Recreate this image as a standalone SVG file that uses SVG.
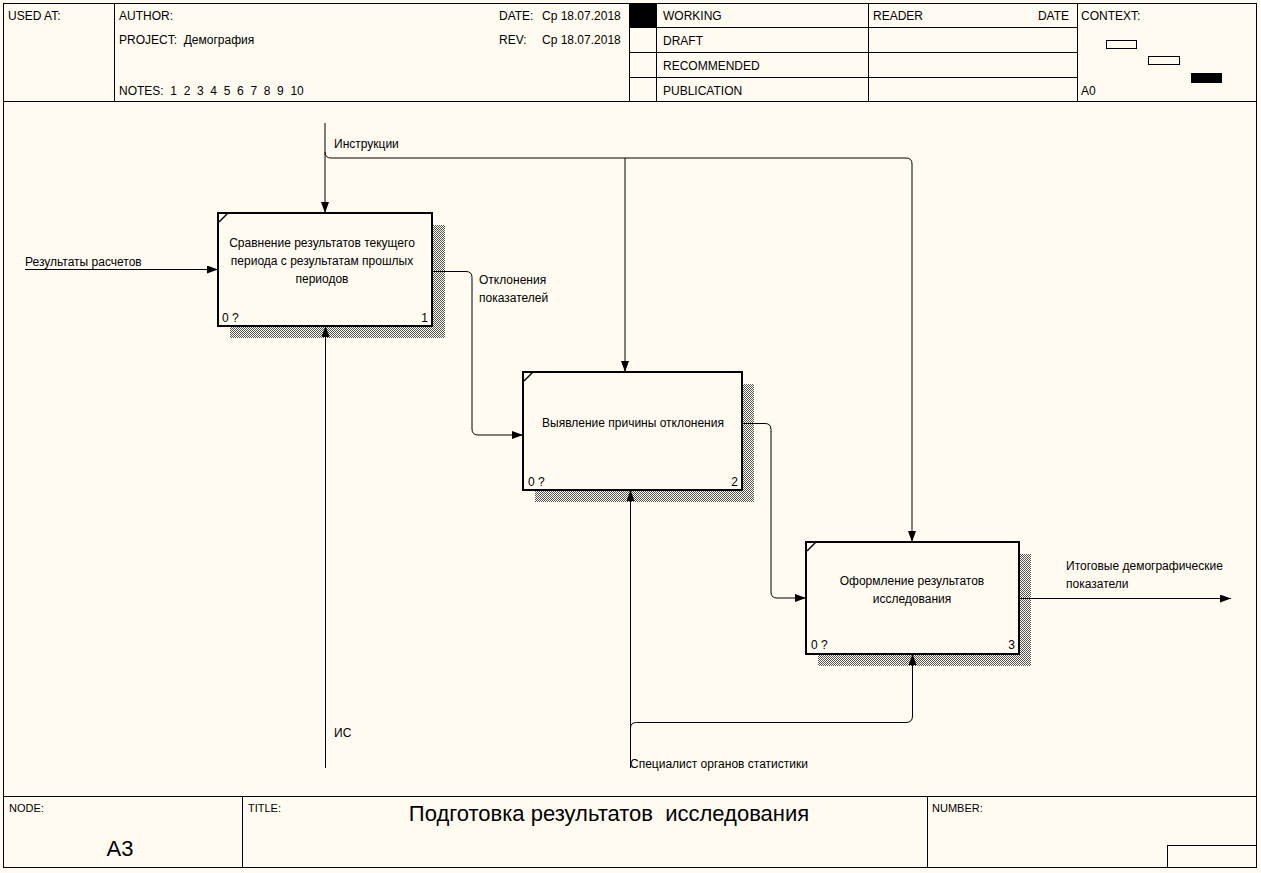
<svg xmlns="http://www.w3.org/2000/svg" width="1261" height="873" viewBox="0 0 1261 873" xml:space="preserve">
<defs>
<style>
text{font-family:"Liberation Sans",Arial,sans-serif;font-size:12px;fill:#000;white-space:pre}
.frame{fill:none;stroke:#000;stroke-width:1}
.box{fill:#FFFBF0;stroke:#000;stroke-width:2}
.shadow{fill:url(#hatch)}
.conn{fill:none;stroke:#000;stroke-width:1}
.big{font-size:22px}
.small{font-size:11px}
</style>
<pattern id="hatch" width="2" height="2" patternUnits="userSpaceOnUse">
<rect width="2" height="2" fill="#FFFBF0"/>
<rect width="1" height="1" fill="#555"/>
<rect x="1" y="1" width="1" height="1" fill="#555"/>
</pattern>
<marker id="arr" viewBox="0 0 11 8" refX="11" refY="4" markerWidth="11" markerHeight="8" markerUnits="userSpaceOnUse" orient="auto">
<path d="M0,0 L11,4 L0,8 z" fill="#000"/>
</marker>
</defs>
<rect x="0" y="0" width="1261" height="873" fill="#FFFBF0"/>

<g id="header">
<rect x="3.5" y="3.5" width="1253" height="864" class="frame"/>
<line x1="3" y1="101.5" x2="1257" y2="101.5" stroke="#000"/>
<line x1="114.5" y1="3" x2="114.5" y2="101" stroke="#000"/>
<line x1="629.5" y1="3" x2="629.5" y2="101" stroke="#000"/>
<line x1="656.5" y1="3" x2="656.5" y2="101" stroke="#000"/>
<line x1="868.5" y1="3" x2="868.5" y2="101" stroke="#000"/>
<line x1="1077.5" y1="3" x2="1077.5" y2="101" stroke="#000"/>
<line x1="629" y1="27.5" x2="1077" y2="27.5" stroke="#000"/>
<line x1="629" y1="52.5" x2="1077" y2="52.5" stroke="#000"/>
<line x1="629" y1="77.5" x2="1077" y2="77.5" stroke="#000"/>
<rect x="630" y="4" width="26" height="23" fill="#000"/>
<text x="8" y="20">USED AT:</text>
<text x="119" y="20">AUTHOR:</text>
<text x="119" y="44">PROJECT:  Демография</text>
<text x="119" y="95">NOTES:  1  2  3  4  5  6  7  8  9  10</text>
<text x="499" y="20">DATE:</text>
<text x="542" y="20">Ср 18.07.2018</text>
<text x="499" y="44">REV:</text>
<text x="542" y="44">Ср 18.07.2018</text>
<text x="663" y="20">WORKING</text>
<text x="663" y="45">DRAFT</text>
<text x="663" y="70">RECOMMENDED</text>
<text x="663" y="95">PUBLICATION</text>
<text x="873" y="20">READER</text>
<text x="1069" y="20" text-anchor="end">DATE</text>
<text x="1081" y="20">CONTEXT:</text>
<text x="1081" y="95">A0</text>
<rect x="1106.5" y="40.5" width="30" height="8" fill="none" stroke="#000"/>
<rect x="1148.5" y="56.5" width="31" height="8" fill="none" stroke="#000"/>
<rect x="1191" y="73" width="31" height="10" fill="#000"/>
</g>

<g id="footer">
<line x1="3" y1="796.5" x2="1257" y2="796.5" stroke="#000"/>
<line x1="242.5" y1="796" x2="242.5" y2="867" stroke="#000"/>
<line x1="927.5" y1="796" x2="927.5" y2="867" stroke="#000"/>
<rect x="1167.5" y="845.5" width="89" height="22" fill="none" stroke="#000"/>
<text x="9" y="812" class="small">NODE:</text>
<text x="120" y="856" class="big" text-anchor="middle">A3</text>
<text x="609" y="821" class="big" text-anchor="middle">Подготовка результатов  исследования</text>
<text x="248" y="812" class="small">TITLE:</text>
<text x="932" y="812" class="small">NUMBER:</text>
</g>

<g id="node1">
<rect x="230" y="225" width="215" height="113" class="shadow"/>
<rect x="218" y="213" width="214" height="113" class="box"/>
<line x1="219" y1="222" x2="228" y2="213" stroke="#000" stroke-width="1.5"/>
<text x="322" y="247" text-anchor="middle">Сравнение результатов текущего</text>
<text x="322" y="265" text-anchor="middle">периода с результатам прошлых</text>
<text x="322" y="283" text-anchor="middle">периодов</text>
<text x="222" y="322">0 ?</text>
<text x="428" y="322" text-anchor="end">1</text>
</g>

<g id="node2">
<rect x="535" y="384" width="219" height="118" class="shadow"/>
<rect x="523" y="372" width="219" height="118" class="box"/>
<line x1="524" y1="381" x2="533" y2="372" stroke="#000" stroke-width="1.5"/>
<text x="633" y="427" text-anchor="middle">Выявление причины отклонения</text>
<text x="528" y="486">0 ?</text>
<text x="738" y="486" text-anchor="end">2</text>
</g>

<g id="node3">
<rect x="818" y="554" width="213" height="112" class="shadow"/>
<rect x="806" y="542" width="213" height="112" class="box"/>
<line x1="807" y1="551" x2="816" y2="542" stroke="#000" stroke-width="1.5"/>
<text x="912" y="585" text-anchor="middle">Оформление результатов</text>
<text x="912" y="603" text-anchor="middle">исследования</text>
<text x="811" y="649">0 ?</text>
<text x="1015" y="649" text-anchor="end">3</text>
</g>

<g id="connectors">
<path class="conn" d="M325,123 V213" marker-end="url(#arr)"/>
<path class="conn" d="M325,152 Q325,158 331,158 H906 Q912,158 912,164 V542" marker-end="url(#arr)"/>
<path class="conn" d="M625,158 V372" marker-end="url(#arr)"/>
<path class="conn" d="M25,269.5 H218" marker-end="url(#arr)"/>
<path class="conn" d="M433,271.5 H466 Q472,271.5 472,277.5 V429 Q472,435 478,435 H523" marker-end="url(#arr)"/>
<path class="conn" d="M743,423.5 H765 Q771,423.5 771,429.5 V592 Q771,598 777,598 H806" marker-end="url(#arr)"/>
<path class="conn" d="M1020,598.5 H1231" marker-end="url(#arr)"/>
<path class="conn" d="M325.5,768 V326" marker-end="url(#arr)"/>
<path class="conn" d="M630.5,768 V490" marker-end="url(#arr)"/>
<path class="conn" d="M630.5,728 Q630.5,722.5 636.5,722.5 H906 Q912.5,722.5 912.5,716 V654" marker-end="url(#arr)"/>
<text x="334" y="148">Инструкции</text>
<text x="25" y="266">Результаты расчетов</text>
<text x="479" y="284">Отклонения</text>
<text x="479" y="302">показателей</text>
<text x="1066" y="570">Итоговые демографические</text>
<text x="1066" y="588">показатели</text>
<text x="334" y="737">ИС</text>
<text x="630" y="768">Специалист органов статистики</text>
</g>
</svg>
